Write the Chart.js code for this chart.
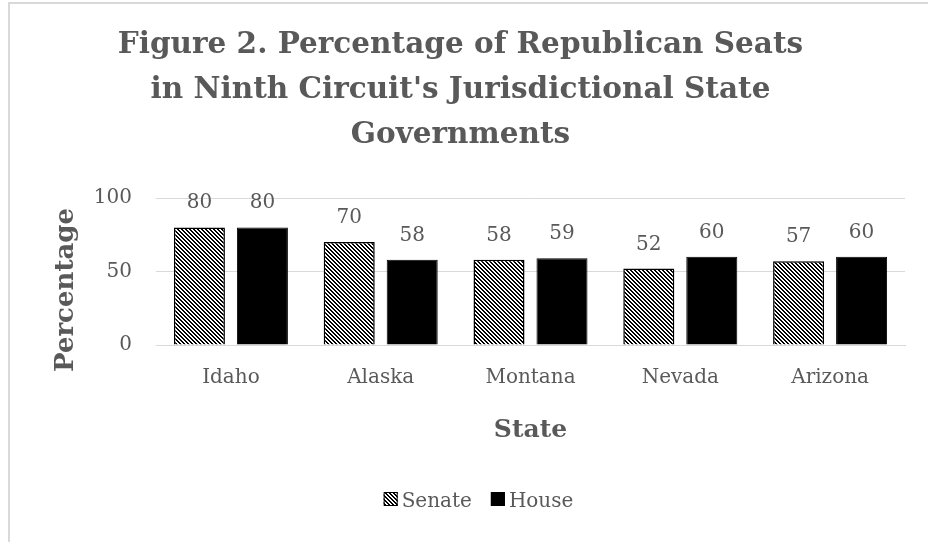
<!DOCTYPE html>
<html><head><meta charset="utf-8">
<script src="https://cdn.jsdelivr.net/npm/chart.js@4.4.1/dist/chart.umd.min.js"></script>
<style>
html,body{margin:0;padding:0;background:#fff;overflow:hidden;}
#wrap{position:relative;width:928px;height:542px;}
#frame{position:absolute;left:8px;top:2px;width:1000px;height:700px;border:2px solid #d9d9d9;box-sizing:border-box;pointer-events:none;}
canvas{position:absolute;left:0;top:0;}
</style></head>
<body>
<div id="wrap"><div id="frame"></div><canvas id="c" width="928" height="542"></canvas></div>
<script>
const titleLines = ["Figure 2. Percentage of Republican Seats", "in Ninth Circuit's Jurisdictional State", "Governments"];
const categories = ["Idaho", "Alaska", "Montana", "Nevada", "Arizona"];
const senateValues = [80, 70, 58, 52, 57];
const houseValues = [80, 58, 59, 60, 60];
const seriesNames = ["Senate", "House"];
const yTicks = [0, 50, 100];
const yTitle = "Percentage";
const xTitle = "State";

const FONT = "'DejaVu Serif', serif";
const GRAY = '#595959';

function makePattern() {
  const n = 4, w = 2;
  const pc = document.createElement('canvas');
  pc.width = n; pc.height = n;
  const pctx = pc.getContext('2d');
  const img = pctx.createImageData(n, n);
  for (let y = 0; y < n; y++) for (let x = 0; x < n; x++) {
    const on = ((x - y) % n + n) % n < w;
    const i = (y * n + x) * 4;
    const v = on ? 0 : 255;
    img.data[i] = v; img.data[i+1] = v; img.data[i+2] = v; img.data[i+3] = 255;
  }
  pctx.putImageData(img, 0, 0);
  return pctx.createPattern(pc, 'repeat');
}
const hatch = makePattern();

const valueLabels = {
  id: 'valueLabels',
  afterDatasetsDraw(chart) {
    const ctx = chart.ctx;
    ctx.save();
    ctx.font = "20px " + FONT;
    ctx.fillStyle = GRAY;
    ctx.textAlign = 'center';
    ctx.textBaseline = 'alphabetic';
    chart.data.datasets.forEach((ds, di) => {
      chart.getDatasetMeta(di).data.forEach((bar, i) => {
        ctx.fillText(String(ds.data[i]), bar.x, bar.y - 19);
      });
    });
    ctx.restore();
  }
};

const yAxisTitle = {
  id: 'yAxisTitle',
  afterDraw(chart) {
    const ctx = chart.ctx;
    ctx.save();
    ctx.font = "bold 26px " + FONT;
    ctx.fillStyle = GRAY;
    ctx.textAlign = 'center';
    ctx.textBaseline = 'middle';
    ctx.translate(66, 290);
    ctx.rotate(-Math.PI / 2);
    ctx.fillText(yTitle, 0, 0);
    ctx.restore();
  }
};

const customLegend = {
  id: 'customLegend',
  afterDraw(chart) {
    const ctx = chart.ctx;
    ctx.save();
    ctx.font = "20px " + FONT;
    const box = 14, gapText = 4, gapItem = 19;
    const items = chart.data.datasets.map(ds => ({label: ds.label, fill: ds.backgroundColor, w: ctx.measureText(ds.label).width}));
    let total = items.reduce((s, it) => s + box + gapText + it.w, 0) + gapItem * (items.length - 1);
    let x = 478.5 - total / 2;
    const boxTop = 492, baseline = 507;
    items.forEach(it => {
      ctx.fillStyle = it.fill;
      ctx.fillRect(x, boxTop, box, box);
      ctx.strokeStyle = '#000'; ctx.lineWidth = 1;
      ctx.strokeRect(x + 0.5, boxTop + 0.5, box - 1, box - 1);
      ctx.fillStyle = GRAY;
      ctx.textBaseline = 'alphabetic';
      ctx.textAlign = 'left';
      ctx.fillText(it.label, x + box + gapText, baseline);
      x += box + gapText + it.w + gapItem;
    });
    ctx.restore();
  }
};

new Chart(document.getElementById('c'), {
  type: 'bar',
  data: {
    labels: categories,
    datasets: [
      {label: seriesNames[0], data: senateValues, backgroundColor: hatch, borderColor: '#000', borderWidth: 1.5,
       categoryPercentage: 0.841, barPercentage: 0.81},
      {label: seriesNames[1], data: houseValues, backgroundColor: '#000', borderColor: '#000', borderWidth: 1,
       categoryPercentage: 0.841, barPercentage: 0.81}
    ]
  },
  options: {
    responsive: false,
    animation: false,
    devicePixelRatio: 1,
    layout: {padding: {left: 16, right: 23, top: 0, bottom: 97}},
    plugins: {
      legend: {display: false},
      tooltip: {enabled: false},
      title: {
        display: true,
        text: titleLines,
        color: GRAY,
        font: {family: FONT, size: 29.5, weight: 'bold', lineHeight: 45 / 29.5},
        padding: {top: 22.5, bottom: 40.5}
      }
    },
    scales: {
      x: {
        grid: {display: false, drawTicks: false},
        border: {display: true, color: '#d9d9d9', width: 1},
        ticks: {color: GRAY, font: {family: FONT, size: 20}, padding: 21},
        title: {display: true, text: xTitle, color: GRAY,
                font: {family: FONT, size: 25, weight: 'bold', lineHeight: 1.2}, padding: {top: 4, bottom: 0}}
      },
      y: {
        min: 0, max: 100,
        afterBuildTicks(scale) { scale.ticks = yTicks.map(v => ({value: v})); },
        afterFit(scale) { scale.width = 140; },
        grid: {color: '#d9d9d9', lineWidth: 1, drawTicks: false},
        border: {display: false},
        ticks: {color: GRAY, font: {family: FONT, size: 20}, padding: 24},
        title: {display: false}
      }
    }
  },
  plugins: [valueLabels, yAxisTitle, customLegend]
});
</script>
</body></html>
